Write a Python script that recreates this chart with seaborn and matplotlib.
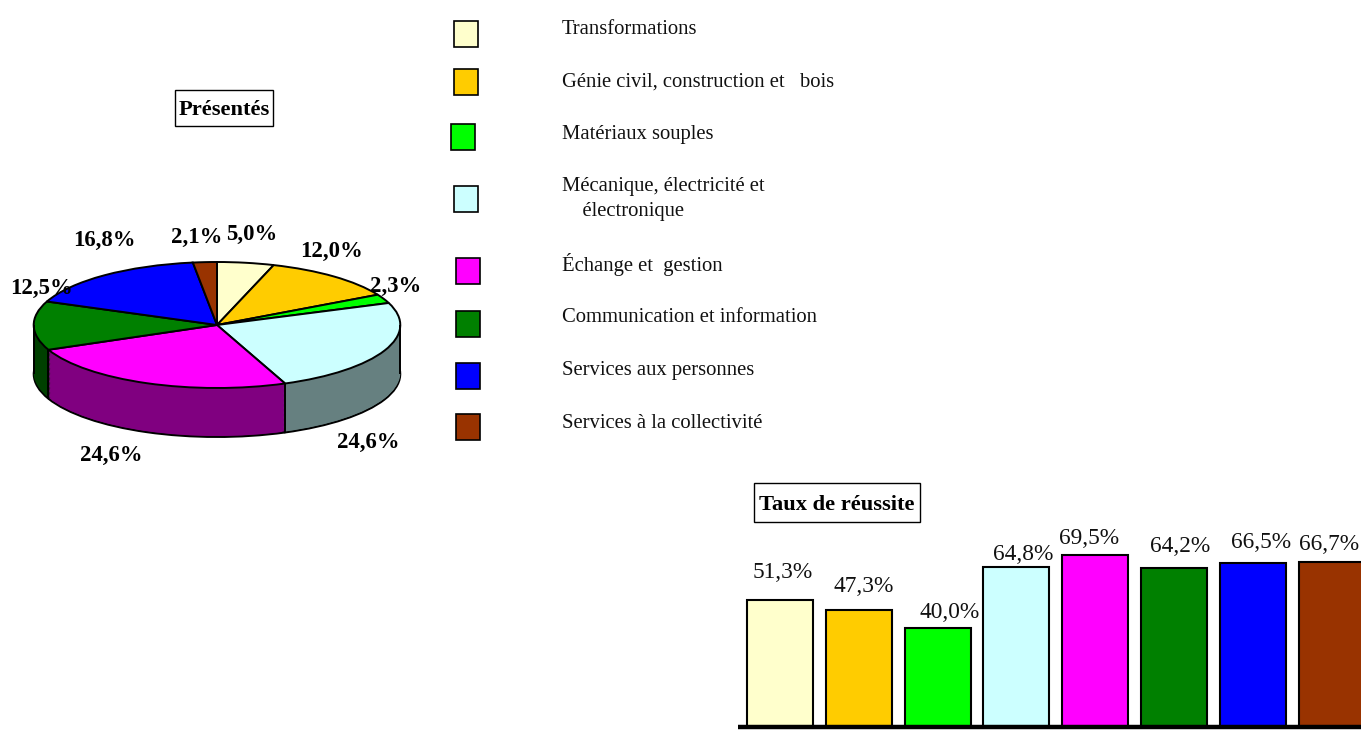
import numpy as np
import pandas as pd
import matplotlib
matplotlib.use("Agg")
import matplotlib.pyplot as plt
from matplotlib.patches import Rectangle
from matplotlib.colors import to_rgb
import seaborn as sns

# values
categories = ["Transformations", "Génie civil, construction et   bois", "Matériaux souples",
              "Mécanique, électricité et\n    électronique", "Échange et  gestion",
              "Communication et information", "Services aux personnes", "Services à la collectivité"]
presentes = [5.0, 12.0, 2.3, 24.6, 24.6, 12.5, 16.8, 2.1]
reussite = [51.3, 47.3, 40.0, 64.8, 69.5, 64.2, 66.5, 66.7]
colors = ["#FFFFCC", "#FFCC00", "#00FF00", "#CCFFFF", "#FF00FF", "#008000", "#0000FF", "#993300"]

W, H = 1361, 731
SERIF = "Liberation Serif"


def px_axes(fig, left, top, right, bottom):
    return fig.add_axes([left / W, 1 - bottom / H, (right - left) / W, (bottom - top) / H])


def fmt(v):
    return f"{v:.1f}%".replace(".", ",")


sns.set_theme(style="white")
plt.rcParams["font.family"] = [SERIF, "DejaVu Sans"]
fig = plt.figure(figsize=(W / 100, H / 100), dpi=100, facecolor="white")

# pie, squashed into an ellipse, side made of stacked darker pies
cx, cy, rx, ry, depth_px = 216.7, 325, 183.3, 63, 49
ax_pie = px_axes(fig, 17, 250, 417, 450)
dark = [tuple(c * 0.5 for c in to_rgb(col)) for col in colors]
depth = depth_px / ry
pie_args = dict(startangle=90, counterclock=False, radius=1)
ax_pie.pie(presentes, colors=dark, center=(0, -depth), wedgeprops=dict(edgecolor="black", linewidth=1.4), **pie_args)
for d in np.arange(depth - 0.02, 0, -0.02):
    ax_pie.pie(presentes, colors=dark, center=(0, -d), wedgeprops=dict(linewidth=0), **pie_args)
ax_pie.pie(presentes, colors=colors, center=(0, 0), wedgeprops=dict(edgecolor="black", linewidth=1.4), **pie_args)

# vertical edges on the visible front of the side
theta = 2 * np.pi * np.cumsum(presentes) / np.sum(presentes)
for t in theta:
    if np.cos(t) < 0:
        ax_pie.plot([np.sin(t)] * 2, [np.cos(t), np.cos(t) - depth], color="black", lw=1.4, solid_capstyle="butt")
for x in (-1, 1):
    ax_pie.plot([x, x], [0, -depth], color="black", lw=1.4, solid_capstyle="butt")
ax_pie.set_aspect("auto")
ax_pie.set_xlim(-200 / rx, 200 / rx)
ax_pie.set_ylim(-(450 - cy) / ry, (cy - 250) / ry)
ax_pie.axis("off")

# bars
df = pd.DataFrame({"categorie": categories, "taux": reussite})
pitch = 78.8
ax_bar = px_axes(fig, 738, 500, 1361, 727)
sns.barplot(data=df, x="categorie", y="taux", hue="categorie", palette=colors, legend=False, saturation=1,
            width=0.84, edgecolor="black", linewidth=1.5, ax=ax_bar)
ax_bar.set_xlim(-(780 - 738) / pitch, (1361 - 780) / pitch)
ax_bar.set_ylim(0, 227 / 2.47)
ax_bar.set_xticks([])
ax_bar.set_yticks([])
ax_bar.set_xlabel("")
ax_bar.set_ylabel("")
ax_bar.patch.set_alpha(0)
sns.despine(ax=ax_bar, left=True)
ax_bar.spines["bottom"].set_linewidth(3.2)
ax_bar.spines["bottom"].set_color("black")
ax_bar.spines["bottom"].set_capstyle("butt")

# overlay in pixel coordinates for texts and legend swatches
ov = fig.add_axes([0, 0, 1, 1])
ov.set_xlim(0, W)
ov.set_ylim(H, 0)
ov.axis("off")
ov.patch.set_alpha(0)

swatches = [(454, 21), (454, 69), (451, 124), (454, 186), (456, 258), (456, 311), (456, 363), (456, 414)]
text_y = [29, 82, 134, 199, 265, 318, 370, 423]
for (sx, sy), col, ty, name in zip(swatches, colors, text_y, categories):
    ov.add_patch(Rectangle((sx, sy), 24.5, 25.5, facecolor=col, edgecolor="black", linewidth=1.2))
    ov.text(562, ty, name, fontsize=14.85, va="center", ha="left", color="#111111", linespacing=1.42)

pie_pos = [(252, 234), (332, 251), (396, 286), (368, 442), (111, 455), (42, 288), (104, 240), (197, 237)]
for (x, y), v in zip(pie_pos, presentes):
    ov.text(x, y, fmt(v), fontsize=16.4, fontweight="bold", ha="center", va="center", color="black")

bar_pos = [(783, 572), (864, 586), (950, 613), (1023, 554), (1089, 538), (1180, 546), (1261, 543), (1329, 545)]
for (x, y), v in zip(bar_pos, reussite):
    ov.text(x, y, fmt(v), fontsize=16.8, ha="center", va="center", color="#111111")


def title_box(x0, y0, x1, y1, s):
    ov.add_patch(Rectangle((x0, y0), x1 - x0, y1 - y0, facecolor="white", edgecolor="black", linewidth=1))
    ov.text((x0 + x1) / 2, (y0 + y1) / 2 + 2, s, fontsize=16.2, fontweight="bold", ha="center", va="center", color="black")


title_box(175, 90, 273, 126, "Présentés")
title_box(754, 483, 920, 522, "Taux de réussite")

fig.savefig("out.png", dpi=100)
